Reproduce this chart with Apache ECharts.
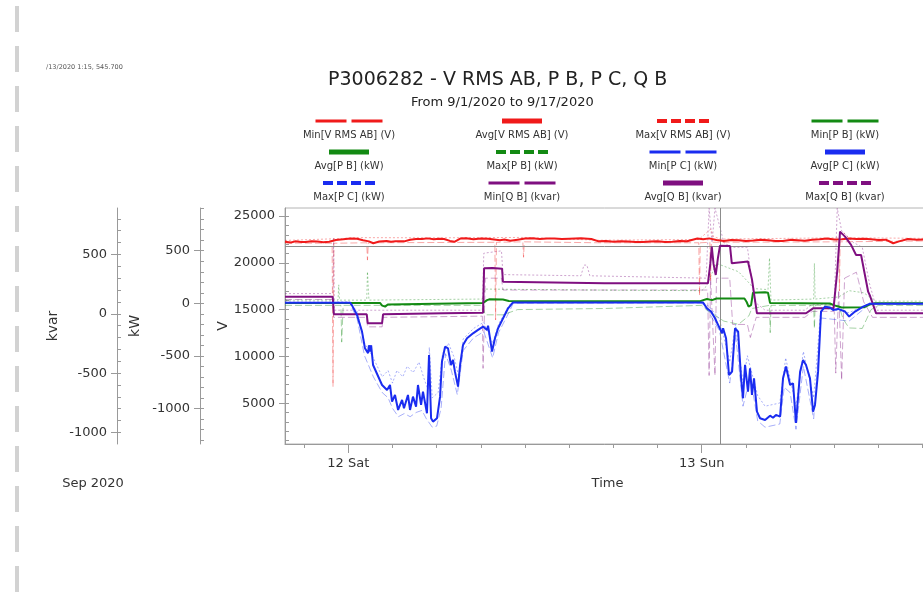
<!DOCTYPE html>
<html><head><meta charset="utf-8">
<script src="https://cdn.jsdelivr.net/npm/echarts@6/dist/echarts.min.js"></script>
<style>html,body{margin:0;padding:0;background:#fff}#c{width:923px;height:603px}</style>
</head><body><div id="c"></div>
<script>
// ---- data (x = hours since 9/12/2020 00:00) ----
const seriesNames = ['Min[V RMS AB] (V)','Avg[V RMS AB] (V)','Max[V RMS AB] (V)','Min[P B] (kW)',
  'Avg[P B] (kW)','Max[P B] (kW)','Min[P C] (kW)','Avg[P C] (kW)','Max[P C] (kW)',
  'Min[Q B] (kvar)','Avg[Q B] (kvar)','Max[Q B] (kvar)'];
const dayTickHours = [0, 24];
const dayTickLabels = ['12 Sat', '13 Sun'];
const vTicks = [5000, 10000, 15000, 20000, 25000];
const kwTicks = [-1000, -500, 0, 500];
const kvarTicks = [-1000, -500, 0, 500];
const cursorTime = 25.25;      // 9/13/2020 1:15
const cursorValue = 545.7;

const avgV = [[-4.3,22260],[-3.9,22180],[-3.6,22300],[-3.2,22240],[-2.9,22220],[-2.5,22300],[-2.1,22290],[-1.7,22200],[-1.3,22250],[-0.85,22450],[-0.35,22520],[0.15,22610],[0.6,22580],[1.0,22420],[1.4,22300],[1.7,22100],[2.1,22280],[2.6,22350],[2.9,22260],[3.2,22320],[3.8,22300],[4.2,22480],[4.6,22540],[5.0,22550],[5.4,22620],[5.8,22520],[6.2,22580],[6.5,22560],[6.9,22350],[7.2,22250],[7.6,22600],[8.0,22640],[8.5,22520],[9.0,22600],[9.5,22580],[10.3,22420],[10.6,22500],[11.0,22360],[11.5,22480],[12.0,22600],[12.5,22640],[13.0,22550],[13.5,22600],[14.0,22610],[14.5,22540],[15.0,22580],[15.8,22620],[16.5,22560],[17.0,22300],[17.5,22330],[18.0,22250],[18.5,22320],[19.0,22280],[19.5,22230],[20.0,22220],[20.5,22280],[21.0,22300],[21.5,22240],[22.0,22250],[22.5,22330],[23.0,22310],[23.7,22600],[24.1,22520],[24.5,22620],[25.0,22450],[25.5,22350],[26.0,22450],[26.5,22420],[27.0,22330],[27.5,22380],[28.0,22460],[28.5,22420],[29.0,22330],[29.5,22350],[30.0,22460],[30.5,22420],[31.0,22360],[31.5,22480],[32.0,22520],[32.5,22600],[33.0,22500],[33.5,22520],[34.0,22600],[34.5,22560],[35.0,22580],[35.5,22520],[36.0,22450],[36.5,22480],[37.0,22100],[37.4,22300],[38.0,22550],[38.6,22480],[39.5,22500]];
const minV = [[-4.3,22120],[-1.1,22100],[-1.04,6800],[-0.98,22100],[1.25,22150],[1.3,20300],[1.36,22150],[9.95,22200],[10.0,13900],[10.06,22200],[11.85,22250],[11.9,20600],[11.95,22250],[17.0,22150],[23.8,22150],[23.85,16500],[23.9,22150],[24.55,22200],[24.6,18000],[24.65,22200],[33.3,22250],[33.35,17000],[33.4,22250],[39.5,22350]];
const maxV = [[-4.3,22400],[-0.5,22600],[0.5,22700],[6,22680],[12,22720],[17,22420],[23.8,22500],[24.6,23600],[24.8,22800],[25.3,22550],[33.4,22680],[33.6,23300],[34,22680],[39.5,22620]];

const avgPB = [[-4.3,3],[2.15,3],[2.3,-22],[2.5,-32],[2.68,-12],[2.8,3],[9.15,3],[9.42,30],[9.6,38],[10.5,36],[10.9,22],[17.4,20],[23.9,20],[24.35,40],[24.7,30],[25.0,45],[26.9,45],[27.05,12],[27.18,-32],[27.35,-18],[27.48,100],[28.3,105],[28.5,100],[28.64,2],[32.7,-2],[33.0,-20],[33.5,-40],[35.0,-38],[35.4,-12],[35.8,0],[39.5,0]];
const minPB = [[-4.3,-20],[-0.5,-20],[-0.45,-370],[-0.35,-20],[9.1,-20],[9.3,-110],[10.5,-110],[11.5,-60],[17.4,-50],[24.0,-20],[24.3,-60],[25.5,-170],[26.5,-200],[27.2,-120],[27.4,-50],[28.6,-20],[28.65,-280],[28.7,-20],[31.6,-20],[31.65,-240],[31.7,-20],[33.3,-20],[33.6,-150],[34.0,-235],[34.9,-240],[35.5,-60],[36,-20],[39.5,-20]];
const maxPB = [[-4.3,30],[-0.7,30],[-0.65,175],[-0.6,30],[1.25,30],[1.3,300],[1.4,30],[9.1,40],[9.3,135],[17.4,125],[24.0,120],[24.3,160],[25.0,380],[26.5,300],[27.3,180],[27.5,140],[28.5,130],[28.6,430],[28.7,30],[31.6,40],[31.65,380],[31.7,40],[33.3,60],[34.0,120],[35.0,100],[35.8,20],[39.5,20]];

const avgPC = [[-4.3,6],[0.12,6],[0.25,-20],[0.59,-111],[0.93,-270],[1.13,-429],[1.34,-476],[1.4,-400],[1.47,-460],[1.55,-400],[1.68,-588],[2.29,-778],[2.63,-826],[2.83,-778],[2.97,-936],[3.17,-873],[3.38,-1016],[3.65,-921],[3.78,-1000],[4.05,-873],[4.19,-1016],[4.39,-889],[4.6,-984],[4.73,-778],[4.94,-968],[5.07,-841],[5.34,-1048],[5.48,-492],[5.62,-1095],[5.75,-1127],[6.02,-1095],[6.23,-889],[6.36,-556],[6.57,-413],[6.77,-429],[6.97,-588],[7.11,-540],[7.24,-651],[7.45,-794],[7.59,-588],[7.79,-397],[8.06,-333],[8.47,-286],[8.81,-254],[9.15,-222],[9.42,-254],[9.49,-213],[9.76,-460],[9.96,-333],[10.17,-238],[10.51,-143],[10.85,-48],[11.18,8],[24.08,8],[24.35,-48],[24.63,-79],[24.9,-143],[25.11,-206],[25.38,-286],[25.45,-238],[25.65,-333],[25.85,-683],[26.06,-651],[26.26,-238],[26.47,-270],[26.67,-714],[26.8,-905],[26.94,-587],[27.14,-841],[27.28,-619],[27.41,-873],[27.55,-714],[27.75,-1032],[27.96,-1095],[28.3,-1111],[28.37,-1095],[28.64,-1070],[28.84,-1090],[29.04,-1063],[29.32,-1079],[29.52,-714],[29.72,-603],[30.0,-778],[30.2,-762],[30.4,-1140],[30.68,-651],[30.88,-540],[31.08,-587],[31.35,-714],[31.56,-1032],[31.69,-968],[31.9,-651],[32.1,-79],[32.37,-32],[32.71,-41],[32.92,-64],[33.26,-54],[33.73,-79],[34.01,-127],[34.41,-79],[34.96,-32],[35.43,-4],[39.5,-4]];
const minPC = [[-4.3,0],[0.1,0],[0.6,-150],[1.1,-500],[1.7,-700],[2.3,-850],[2.7,-900],[3.0,-1000],[3.4,-1080],[3.8,-1050],[4.2,-1080],[4.6,-1040],[5.0,-1020],[5.3,-1100],[5.7,-1180],[6.0,-1170],[6.3,-1000],[6.6,-480],[7.0,-640],[7.4,-870],[7.8,-450],[8.5,-330],[9.2,-270],[9.8,-520],[10.2,-280],[10.9,-90],[11.2,0],[24.0,2],[24.5,-90],[25.2,-260],[25.9,-760],[26.3,-300],[26.8,-980],[27.3,-700],[27.8,-1120],[28.3,-1180],[29.3,-1150],[29.6,-800],[30.0,-850],[30.4,-1200],[30.9,-600],[31.6,-1100],[32.1,-140],[34.0,-170],[35.4,-10],[39.5,-10]];
const maxPC = [[-4.3,12],[0.1,12],[0.6,-80],[1.1,-380],[1.7,-520],[2.3,-700],[2.7,-640],[3.0,-760],[3.3,-640],[3.7,-700],[4.0,-600],[4.4,-660],[4.8,-560],[5.1,-700],[5.4,-820],[5.5,-420],[5.7,-900],[6.1,-850],[6.4,-480],[6.8,-380],[7.2,-520],[7.5,-700],[7.8,-340],[8.5,-240],[9.2,-180],[9.8,-380],[10.2,-200],[10.9,-20],[11.2,12],[24.0,14],[24.5,-30],[25.2,-150],[25.9,-560],[26.3,-200],[26.8,-760],[27.1,-500],[27.8,-880],[28.3,-980],[29.3,-950],[29.7,-520],[30.4,-980],[30.9,-460],[31.6,-900],[32.1,-40],[34.0,-90],[35.4,2],[39.5,2]];

const avgQB = [[-4.3,144],[-1.06,144],[-0.98,-4],[1.25,-4],[1.32,-80],[2.29,-80],[2.36,-4],[6.5,5],[9.15,9],[9.22,383],[9.8,386],[10.44,380],[10.5,270],[17.4,257],[24.42,257],[24.58,420],[24.68,565],[24.8,420],[24.95,327],[25.1,470],[25.24,574],[25.92,570],[26.04,425],[27.14,440],[27.41,290],[27.75,4],[31.08,4],[31.56,46],[32.95,46],[33.2,360],[33.39,692],[33.73,650],[34.14,580],[34.48,495],[34.82,495],[35.3,186],[35.43,150],[35.84,4],[39.5,4]];
const minQB = [[-4.3,120],[-1.05,120],[-1.0,-30],[1.25,-30],[1.3,-110],[2.3,-110],[2.35,-30],[9.1,-20],[9.15,-460],[9.3,300],[10.4,300],[10.5,200],[17.4,200],[24.4,200],[24.5,-520],[24.6,300],[24.9,-520],[25.0,300],[25.9,300],[26.1,-90],[27.1,-90],[27.3,-200],[27.7,-30],[31.0,-30],[31.5,20],[33.0,20],[33.1,-500],[33.3,200],[33.5,-560],[33.7,300],[34.5,350],[35.0,100],[35.6,-30],[39.5,-30]];
const maxQB = [[-4.3,170],[-1.05,170],[-1.0,640],[-0.95,30],[9.1,30],[9.2,510],[10.4,530],[10.5,330],[15.8,320],[16.0,410],[16.2,410],[16.4,320],[24.3,300],[24.5,890],[24.7,600],[24.9,890],[25.0,890],[25.5,600],[26.0,560],[27.1,560],[27.6,100],[28.3,30],[31.0,30],[31.5,80],[33.0,80],[33.2,890],[33.5,700],[34.3,600],[34.9,560],[35.4,250],[35.9,30],[39.5,30]];

// ---- layout / styling ----
const FONT = 'DejaVu Sans';
const COLORS = {V: '#f01a1a', PB: '#138a13', PC: '#1a2cf0', QB: '#7f0f80'};
const AX = '#9a9a9a';
const X_MIN = -4.3, X_MAX = 39.5;
const V_RANGE = [650, 25865], KW_RANGE = [-1340, 907], KVAR_RANGE = [-1097, 891];

function steps(min, max, step) { const a = []; for (let v = Math.ceil(min / step) * step; v <= max; v += step) a.push(v); return a; }

function yPair(name, range, offset, ticks, minorStep, nameGap) {
  return [{
    type: 'value', position: 'left', offset, min: range[0], max: range[1],
    name, nameLocation: 'middle', nameRotate: 90, nameGap, nameMoveOverlap: false,
    nameTextStyle: {fontFamily: FONT, fontSize: 14, color: '#333'},
    axisLine: {show: true, onZero: false, lineStyle: {color: AX}},
    axisTick: {show: true, length: 6, lineStyle: {color: AX}, customValues: ticks},
    axisLabel: {customValues: ticks, margin: 10, fontFamily: FONT, fontSize: 13, color: '#333', formatter: v => String(v)},
    splitLine: {show: false}
  }, {
    type: 'value', position: 'left', offset, min: range[0], max: range[1],
    axisLine: {show: false, onZero: false},
    axisTick: {show: true, inside: true, length: 4, lineStyle: {color: AX}, customValues: steps(range[0], range[1], minorStep)},
    axisLabel: {show: false}, splitLine: {show: false}
  }];
}

const styleOf = {
  Min: {type: [7, 3], width: 1, opacity: 0.38},
  Avg: {type: 'solid', width: 2, opacity: 1},
  Max: {type: [2, 2], width: 1, opacity: 0.38}
};
function ser(name, data, color, kind, yAxisIndex, extra) {
  const st = styleOf[kind];
  return Object.assign({
    name, type: 'line', data, xAxisIndex: 0, yAxisIndex, showSymbol: false, symbol: 'none',
    lineStyle: {color, width: st.width, type: st.type, opacity: st.opacity},
    itemStyle: {color}, silent: true, z: kind === 'Avg' ? 5 : 2
  }, extra || {});
}

const series = [
  ser(seriesNames[9], minQB, COLORS.QB, 'Min', 4),
  ser(seriesNames[11], maxQB, COLORS.QB, 'Max', 4),
  ser(seriesNames[6], minPC, COLORS.PC, 'Min', 2),
  ser(seriesNames[8], maxPC, COLORS.PC, 'Max', 2),
  ser(seriesNames[3], minPB, COLORS.PB, 'Min', 2),
  ser(seriesNames[5], maxPB, COLORS.PB, 'Max', 2),
  ser(seriesNames[0], minV, COLORS.V, 'Min', 0),
  ser(seriesNames[2], maxV, COLORS.V, 'Max', 0),
  ser(seriesNames[1], avgV, COLORS.V, 'Avg', 0),
  ser(seriesNames[4], avgPB, COLORS.PB, 'Avg', 2),
  ser(seriesNames[10], avgQB, COLORS.QB, 'Avg', 4),
  ser(seriesNames[7], avgPC, COLORS.PC, 'Avg', 2, {
    markLine: {silent: true, symbol: 'none', label: {show: false},
      lineStyle: {color: '#8c8c8c', width: 1, type: 'solid', opacity: 1},
      data: [{xAxis: cursorTime}, {yAxis: cursorValue}]}
  })
];

// legend drawn as swatch above label, 4 columns x 3 rows
const legendColX = [349, 522, 683, 845];
const legendRowY = [121, 152, 183];
const legendColor = [COLORS.V, COLORS.V, COLORS.V, COLORS.PB, COLORS.PB, COLORS.PB, COLORS.PC, COLORS.PC, COLORS.PC, COLORS.QB, COLORS.QB, COLORS.QB];
const swatch = {Min: {w: 67, dash: [31, 5], lw: 3}, Avg: {w: 40, dash: null, lw: 5}, Max: {w: 52, dash: [10, 4], lw: 4}};
const graphics = [];
seriesNames.forEach((nm, i) => {
  const cx = legendColX[i % 4], y = legendRowY[Math.floor(i / 4)];
  const sw = swatch[nm.slice(0, 3)];
  graphics.push({type: 'line', silent: true,
    shape: {x1: cx - sw.w / 2, y1: y, x2: cx + sw.w / 2, y2: y},
    style: {stroke: legendColor[i], lineWidth: sw.lw, lineDash: sw.dash}});
  graphics.push({type: 'text', silent: true, x: cx, y: y + 14,
    style: {text: nm, fill: '#333', font: '10px "DejaVu Sans"', align: 'center', verticalAlign: 'middle'}});
});
graphics.push({type: 'line', silent: true, shape: {x1: 17, y1: 6, x2: 17, y2: 603},
  style: {stroke: '#d2d2d2', lineWidth: 4, lineDash: [26, 14]}});
graphics.push({type: 'text', silent: true, x: 46, y: 67,
  style: {text: '/13/2020 1:15, 545.700', fill: '#555', font: '6.5px "DejaVu Sans"', verticalAlign: 'middle'}});
graphics.push({type: 'text', silent: true, x: 93, y: 484,
  style: {text: 'Sep 2020', fill: '#333', font: '13px "DejaVu Sans"', align: 'center', verticalAlign: 'middle'}});

const option = {
  animation: false,
  backgroundColor: '#fff',
  textStyle: {fontFamily: FONT},
  title: [
    {text: 'P3006282 - V RMS AB, P B, P C, Q B', left: 323, top: 66,
      textStyle: {fontFamily: FONT, fontSize: 19, fontWeight: 'normal', color: '#222'}},
    {text: 'From 9/1/2020 to 9/17/2020', left: 406, top: 91,
      textStyle: {fontFamily: FONT, fontSize: 13, fontWeight: 'normal', color: '#222'}}
  ],
  grid: {left: 285, top: 208, width: 645, height: 236, show: true, borderColor: '#b4b4b4', borderWidth: 1,
    backgroundColor: 'transparent', containLabel: false, outerBoundsMode: 'none'},
  xAxis: [{
    type: 'value', position: 'bottom', min: X_MIN, max: X_MAX,
    name: 'Time', nameLocation: 'middle', nameGap: 33, nameMoveOverlap: false,
    nameTextStyle: {fontFamily: FONT, fontSize: 13, color: '#333'},
    axisLine: {show: true, onZero: false, lineStyle: {color: AX}},
    axisTick: {show: true, length: 4, lineStyle: {color: AX}, customValues: steps(X_MIN, X_MAX, 3)},
    axisLabel: {show: false}, splitLine: {show: false}
  }, {
    type: 'value', position: 'bottom', min: X_MIN, max: X_MAX,
    axisLine: {show: false, onZero: false},
    axisTick: {show: true, length: 9, lineStyle: {color: AX}, customValues: dayTickHours},
    axisLabel: {customValues: dayTickHours, margin: 13, fontFamily: FONT, fontSize: 13, color: '#333',
      formatter: v => dayTickLabels[dayTickHours.indexOf(v)] || ''},
    splitLine: {show: false}
  }],
  yAxis: [].concat(
    yPair('V', V_RANGE, 0, vTicks, 1000, 55),
    yPair('kW', KW_RANGE, 85, kwTicks, 100, 58),
    yPair('kvar', KVAR_RANGE, 168, kvarTicks, 100, 57)
  ),
  series,
  graphic: graphics
};
const chart = echarts.init(document.getElementById('c'), null, {renderer: 'canvas'});
chart.setOption(option);
</script></body></html>
